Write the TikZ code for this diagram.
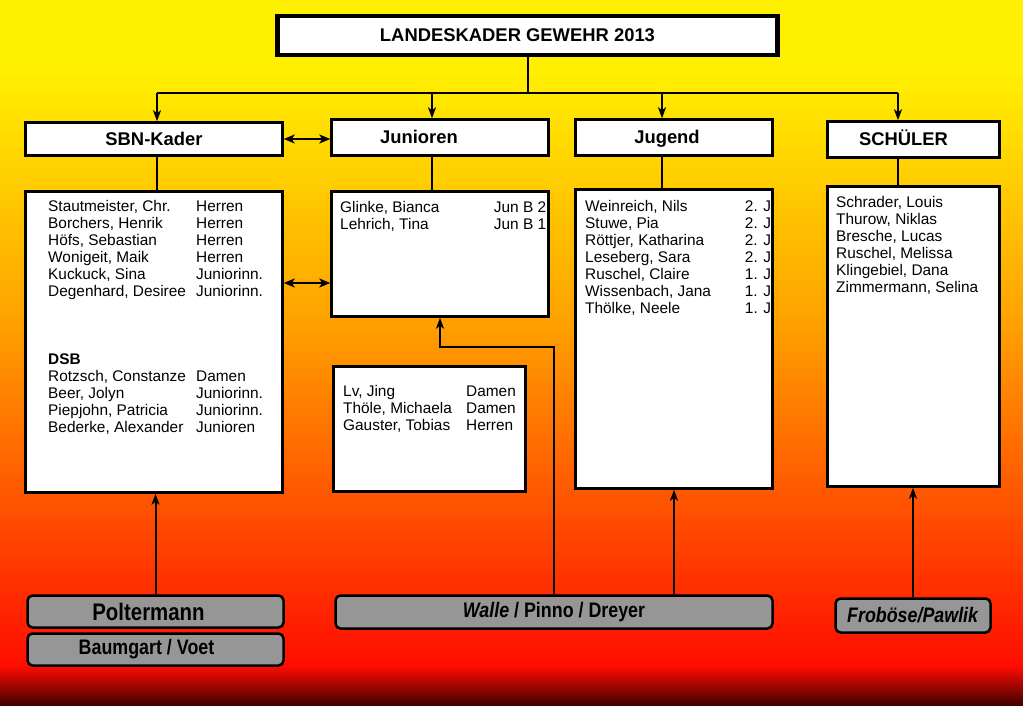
\documentclass[tikz,border=0pt]{standalone}
\usepackage{fontspec}
\setmainfont{Liberation Sans}
\newfontfamily\schmal[FakeStretch=0.85]{Liberation Sans}
\usetikzlibrary{arrows.meta}

\definecolor{bgGelb}{RGB}{255,240,0}
\definecolor{bgOrange}{RGB}{255,158,0}
\definecolor{bgRot}{RGB}{255,12,0}
\definecolor{bgDunkel}{RGB}{60,0,0}
\definecolor{grau}{RGB}{150,150,150}

\tikzset{
	kopf/.style={draw, line width=2.5pt, fill=white, inner sep=0pt, text height=13pt, text depth=0pt, font=\fontsize{18.4}{20}\selectfont\bfseries},
	liste/.style={draw, line width=2.5pt, fill=white, inner sep=0pt},
	trainer/.style={draw, line width=2.5pt, fill=grau, rounded corners=5pt, inner sep=0pt, font=\schmal\fontsize{#1}{#1}\selectfont\bfseries},
	eintrag/.style={anchor=base west, inner sep=0pt, font=\fontsize{15.4}{17}\selectfont},
	linie/.style={line width=2pt},
	pfeil/.style={line width=2pt, ->, >={Stealth[length=11pt,width=8pt,inset=3pt]}},
	doppelpfeil/.style={line width=2.5pt, <->, >={Stealth[length=11pt,width=9pt,inset=3pt]}}
}

\begin{document}
\begin{tikzpicture}[x=1pt,y=-1pt]
	% Hintergrund
	\fill[bgGelb] (0,0) rectangle (1023,72);
	\shade[top color=bgGelb, bottom color=bgOrange] (0,70) rectangle (1023,332);
	\shade[top color=bgOrange, bottom color=bgRot] (0,330) rectangle (1023,668);
	\shade[top color=bgRot, bottom color=bgDunkel] (0,666) rectangle (1023,706);
	\useasboundingbox (0,0) rectangle (1023,706);
	
	% Kopfzeilen
	\node[kopf, line width=4.5pt, minimum width=500pt, minimum height=39pt] (titel) at (527.5,35.5) {\hspace*{-20pt}LANDESKADER GEWEHR 2013};
	\node[kopf, minimum width=257pt, minimum height=33pt] (sbn) at (154,139) {SBN-Kader};
	\node[kopf, minimum width=217pt, minimum height=36pt] (jun) at (440,137.5) {\hspace*{-42pt}Junioren};
	\node[kopf, minimum width=197pt, minimum height=36pt] (jug) at (674,137.5) {\hspace*{-14pt}Jugend};
	\node[kopf, minimum width=172pt, minimum height=36pt] (sch) at (913.5,139.5) {\hspace*{-20pt}SCHÜLER};
	
	% Listen
	\node[liste, minimum width=257pt, minimum height=301pt] (sbnL) at (154,342) {};
	\node[liste, minimum width=217pt, minimum height=125pt] (junL) at (440,254) {};
	\node[liste, minimum width=192pt, minimum height=125pt] (junL2) at (429.5,429) {};
	\node[liste, minimum width=197pt, minimum height=299pt] (jugL) at (674,339) {};
	\node[liste, minimum width=172pt, minimum height=300pt] (schL) at (913.5,336.5) {};
	
	\node[eintrag] (sbnT) at (48,211.5) {\begin{tabular}[t]{@{}p{148pt}@{}l@{}}
		Stautmeister, Chr. & Herren\\
		Borchers, Henrik & Herren\\
		Höfs, Sebastian & Herren\\
		Wonigeit, Maik & Herren\\
		Kuckuck, Sina & Juniorinn.\\
		Degenhard, Desiree & Juniorinn.\\[51pt]
		\textbf{DSB} & \\
		Rotzsch, Constanze & Damen\\
		Beer, Jolyn & Juniorinn.\\
		Piepjohn, Patricia & Juniorinn.\\
		Bederke, Alexander & Junioren
	\end{tabular}};
	\node[eintrag] (junT) at (340,212.5) {\begin{tabular*}{206pt}[t]{@{}l@{\extracolsep{\fill}}r@{}}
		Glinke, Bianca & Jun B 2\\
		Lehrich, Tina & Jun B 1
	\end{tabular*}};
	\node[eintrag] (junT2) at (343,396.5) {\begin{tabular}[t]{@{}p{123pt}@{}l@{}}
		Lv, Jing & Damen\\
		Thöle, Michaela & Damen\\
		Gauster, Tobias & Herren
	\end{tabular}};
	\node[eintrag] (jugT) at (585,211.5) {\begin{tabular*}{186pt}[t]{@{}l@{\extracolsep{\fill}}r@{}}
		Weinreich, Nils & 2. J\\
		Stuwe, Pia & 2. J\\
		Röttjer, Katharina & 2. J\\
		Leseberg, Sara & 2. J\\
		Ruschel, Claire & 1. J\\
		Wissenbach, Jana & 1. J\\
		Thölke, Neele & 1. J
	\end{tabular*}};
	\node[eintrag] (schT) at (836,207.5) {\begin{tabular}[t]{@{}l@{}}
		Schrader, Louis\\
		Thurow, Niklas\\
		Bresche, Lucas\\
		Ruschel, Melissa\\
		Klingebiel, Dana\\
		Zimmermann, Selina
	\end{tabular}};
	
	% Trainer
	\node[trainer=24, minimum width=256pt, minimum height=32pt] (polt) at (155.5,611.5) {\hspace*{-14pt}Poltermann};
	\node[trainer=21, minimum width=256pt, minimum height=32pt] (baum) at (155.5,649.5) {\hspace*{-18pt}Baumgart / Voet};
	\node[trainer=21, minimum width=437pt, minimum height=33pt] (walle) at (554,612) {\textit{Walle} / Pinno / Dreyer};
	\node[trainer=21, minimum width=155pt, minimum height=34pt] (frob) at (913,615.5) {\textit{Froböse/Pawlik}};
	
	% Verbindungen
	\coordinate (b1) at (157,93);
	\coordinate (b2) at (432,93);
	\coordinate (b3) at (662,93);
	\coordinate (b4) at (898,93);
	\draw[linie] (titel.south) -- (titel.south |- b1);
	\draw[linie] (b1) -- (b4);
	\foreach \b/\k/\l in {b1/sbn/sbnL, b2/jun/junL, b3/jug/jugL, b4/sch/schL}{
		\draw[pfeil] (\b) -- (\b |- \k.north);
		\draw[linie] (\b |- \k.south) -- (\b |- \l.north);
	}
	
	\coordinate (mitte) at (307,283);
	\draw[doppelpfeil] (sbn.east) -- (sbn.east -| jun.west);
	\draw[doppelpfeil] (sbnL.east |- mitte) -- (junL.west |- mitte);
	
	\draw[pfeil] (polt.north) -- (polt.north |- sbnL.south);
	\draw[pfeil] (jugL.south |- walle.north) -- (jugL.south);
	\draw[pfeil] (frob.north) -- (frob.north |- schL.south);
	\draw[pfeil] (walle.north) -- ++(0,-247) -| (junL.south);
\end{tikzpicture}
\end{document}
